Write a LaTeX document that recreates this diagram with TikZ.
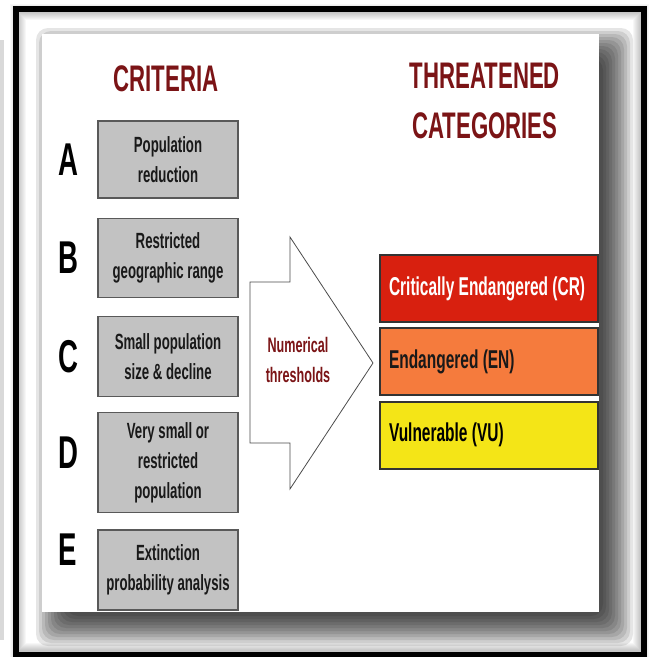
\documentclass[tikz,border=0pt]{standalone}
\usepackage{fontspec}
\setmainfont{Liberation Sans}[FakeStretch=0.6]
\usetikzlibrary{positioning}
\definecolor{titleRed}{HTML}{7B1416}
\definecolor{critGray}{HTML}{C2C2C2}
\definecolor{crRed}{HTML}{D8200F}
\definecolor{enOrange}{HTML}{F57B3D}
\definecolor{vuYellow}{HTML}{F4E517}
\begin{document}
\begin{tikzpicture}[x=1pt,y=-1pt,
    crit/.style={%
      draw=black!65,
      line width=1.5pt,
      fill=critGray,
      minimum width=140pt,
      inner sep=0pt,
      align=center,
      text=black!90,
      font=\bfseries\fontsize{22}{30}\selectfont,
    },
    letter/.style={%
      font=\bfseries\fontsize{46}{46}\selectfont,
    },
    title/.style={%
      text=titleRed,
      align=center,
      font=\bfseries\fontsize{37}{50}\selectfont,
    },
    cat/.style={%
      draw=black!80,
      line width=2pt,
      minimum height=67pt,
      text width=200pt,
      inner xsep=9pt,
      align=left,
      execute at begin node=\spaceskip0pt\relax,
      font=\bfseries\fontsize{25.8}{30}\selectfont,
    },
  ]
    \useasboundingbox (0,0) rectangle (652,657);
    % frame and panel
    \fill[black!15] (0,40) rectangle (4,640);
    \foreach \i in {1,...,8}
      \draw[black, opacity=0.03, line width=2*\i pt] (18,11.5) rectangle (641,651);
    \draw[line width=6pt] (15.5,8.5) rectangle (644,654.5);
    \foreach \r in {-10,-7,...,20}
      \fill[black, opacity=0.1, rounded corners=12pt] (56-\r,48-\r) rectangle (613+\r,626+\r);
    \fill[white] (42,34) rectangle (599,612);
    % titles
    \node [title] (critTitle) at (166,78.5) {CRITERIA};
    \node [title] (catTitle) at (485,100.5) {THREATENED\\CATEGORIES};
    % criteria boxes
    \node [crit, minimum height=77pt] (popRed) at (168,159.5) {Population\\reduction};
    \path (popRed) ++(0,98.5) node [crit, minimum height=79pt] (geoRange) {Restricted\\geographic range};
    \path (geoRange) ++(0,98.5) node [crit, minimum height=80pt] (smallDecl) {Small population\\size \& decline};
    \path (smallDecl) ++(0,106) node [crit, minimum height=100pt] (verySmall) {Very small or\\restricted\\population};
    \path (verySmall) ++(0,107.5) node [crit, minimum height=80pt] (extProb) {Extinction\\probability analysis};
    % letters
    \path (popRed) ++(-100,0.5) node [letter] (letA) {A};
    \path (geoRange) ++(-100,0) node [letter] (letB) {B};
    \path (smallDecl) ++(-100,0.5) node [letter] (letC) {C};
    \path (verySmall) ++(-100,-9.5) node [letter] (letD) {D};
    \path (extProb) ++(-100,-20) node [letter] (letE) {E};
    % big arrow
    \draw[draw=black!70, line width=0.8pt, fill=white] (250,282) -- (290,282) -- (290,237) -- (373,363)
      -- (290,489) -- (290,443) -- (250,443) -- cycle;
    \node [text=titleRed, align=center, font=\bfseries\fontsize{21}{30}\selectfont] (numThr) at (298,360) {Numerical\\thresholds};
    % categories
    \node [cat, fill=crRed, text=white] (critEnd) at (489,288.5) {Critically Endangered (CR)};
    \path (critEnd) ++(0,73) node [cat, fill=enOrange, text=black!90] (endang) {Endangered (EN)};
    \path (endang) ++(0,73.5) node [cat, fill=vuYellow] (vuln) {Vulnerable (VU)};
\end{tikzpicture}
\end{document}
